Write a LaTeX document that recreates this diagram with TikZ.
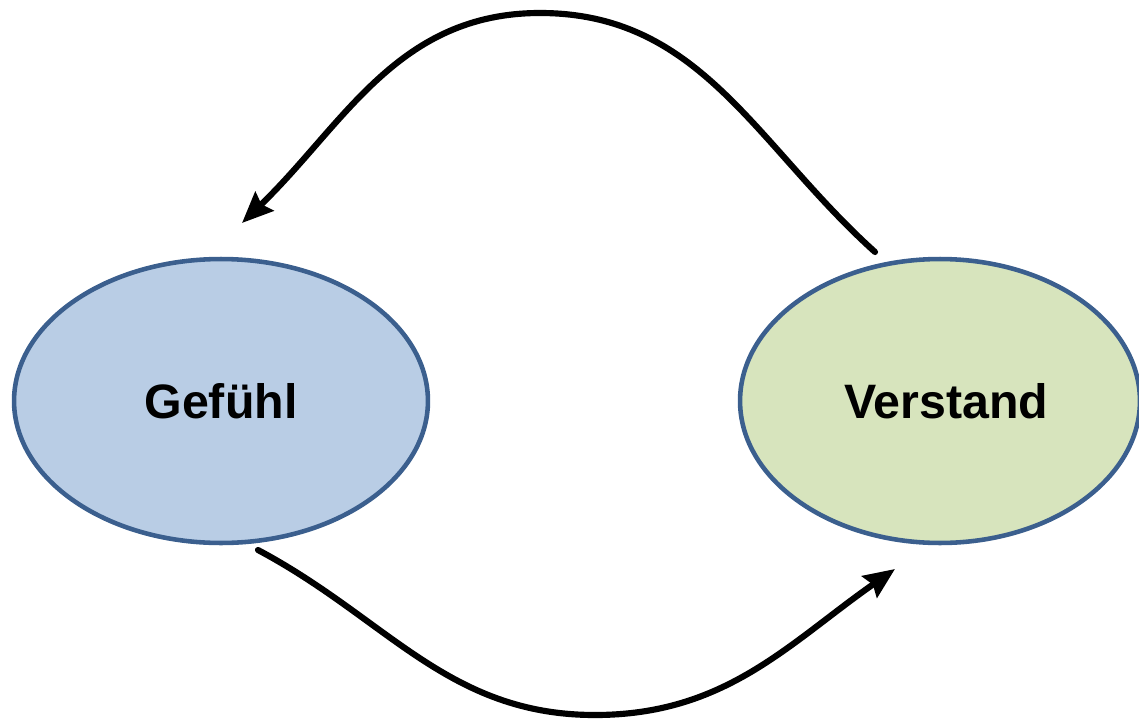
\documentclass[tikz,border=0pt]{standalone}
\usepackage{fontspec}
\setmainfont{Liberation Sans}
\usepackage{tikz}
\usetikzlibrary{shapes,arrows.meta}

\definecolor{rand}{HTML}{3B5F8E}
\definecolor{blau}{HTML}{B9CDE5}
\definecolor{gruen}{HTML}{D7E4BD}

\tikzset{
	feld/.style={ellipse, draw=rand, line width=2.6pt, inner sep=0pt,
		minimum height=5.68cm, font=\fontsize{27.5}{32}\selectfont\bfseries},
	pfeil/.style={line width=3.5pt, line cap=round,
		-{Stealth[length=0.62cm,width=0.52cm,inset=0.08cm]}}
}

\begin{document}
\begin{tikzpicture}[x=0.02cm,y=-0.02cm]
		\useasboundingbox (0,0) rectangle (1139,720);

		\draw (221,401) node[feld, fill=blau, minimum width=8.28cm] (gefuehl) {Gef\"uhl};
		\draw (940,401) node[feld, fill=gruen, minimum width=8cm] (verstand) {\hspace{0.25cm}Verstand};

		% Enden der Pfeile
		\coordinate (v1) at (875,252);
		\coordinate (oben) at (540,13);
		\coordinate (g1) at (242,223);
		\coordinate (g2) at (258,550);
		\coordinate (unten) at (595,715);
		\coordinate (v2) at (895,569);

		\draw[pfeil] (v1) to[out=138,in=0] (oben) to[out=180,in=44] (g1);
		\draw[pfeil] (g2) to[out=-28,in=180] (unten) to[out=0,in=-145] (v2);
	\end{tikzpicture}
\end{document}
